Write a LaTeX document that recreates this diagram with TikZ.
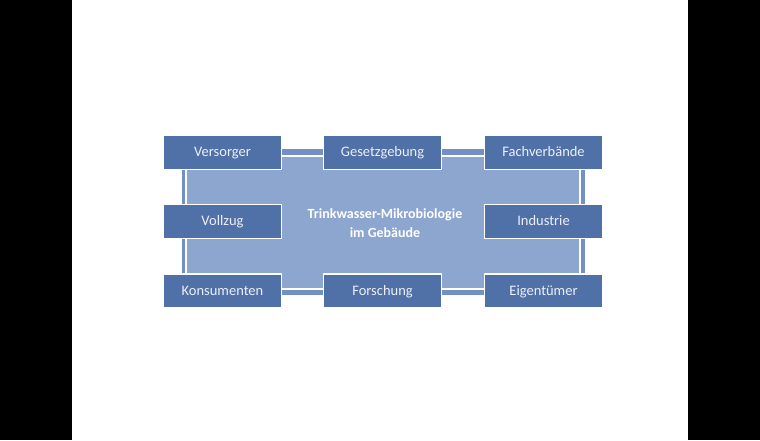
\documentclass[tikz,border=0pt]{standalone}
\usepackage{fontspec}
\setmainfont{Carlito}
\definecolor{boxblue}{RGB}{80,112,168}
\definecolor{bandblue}{RGB}{114,144,196}
\definecolor{coreblue}{RGB}{140,166,208}
\definecolor{labelwhite}{RGB}{236,240,248}
\tikzset{
  partner/.style={draw=white, line width=1.2pt, fill=boxblue, text=labelwhite,
    minimum width=118pt, minimum height=34pt, inner sep=0pt,
    text height=10pt, text depth=2pt,
    font=\fontsize{14.5}{16}\selectfont},
  core/.style={text=white, align=center, font=\bfseries\fontsize{14}{19}\selectfont}
}

\begin{document}
\begin{tikzpicture}[x=1pt,y=-1pt]
			%%%%% START %%%%%
			\useasboundingbox (0,0) rectangle (760,440);
			\fill[black] (0,0) rectangle (72,440);
			\fill[black] (688,0) rectangle (760,440);
			
			\fill[bandblue] (182,149) rectangle (585,295);
			\draw[white, line width=1.5pt, fill=coreblue] (186,156) rectangle (580,289);
			
			\node[core] (kern) at (385,223) {Trinkwasser-Mikrobiologie\\im Gebäude};
			
			\node[partner] (versorger) at (222.5,152.5) {Versorger};
			\node[partner] (gesetz) at (382.5,152.5) {Gesetzgebung};
			\node[partner] (verband) at (543.5,152.5) {Fachverbände};
			
			\node[partner] (vollzug) at (222.5,221.5) {Vollzug};
			\node[partner] (industrie) at (543.5,221.5) {Industrie};
			
			\node[partner] (konsument) at (222.5,291) {Konsumenten};
			\node[partner] (forschung) at (382.5,291) {Forschung};
			\node[partner] (eigentum) at (543.5,291) {Eigentümer};
			%%%%% END %%%%%
\end{tikzpicture}
\end{document}
